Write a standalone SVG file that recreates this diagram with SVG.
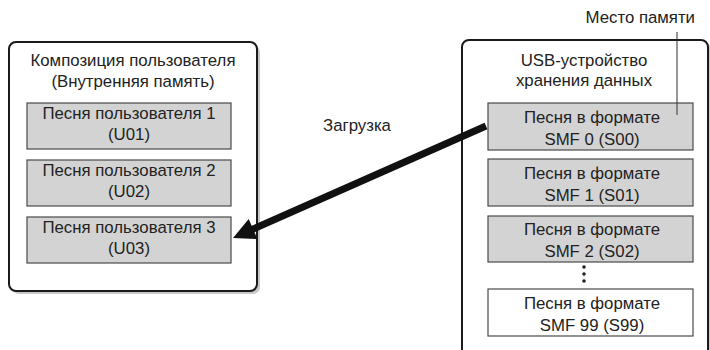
<svg xmlns="http://www.w3.org/2000/svg" width="710" height="350" viewBox="0 0 710 350">
<style>
text{font-family:"Liberation Sans","DejaVu Sans",sans-serif;font-size:16.8px;fill:#222;text-anchor:middle}
.outer{fill:#fff;stroke:#1a1a1a;stroke-width:2}
.shadow{fill:#c8c8c8}
.song{fill:#d3d3d3;stroke:#4a4a4a;stroke-width:1.2}
.song.white{fill:#fff}
</style>
<rect width="710" height="350" fill="#fff"/>
<g id="internal">
<rect class="shadow" x="12" y="45" width="248" height="249" rx="7"/>
<rect class="outer" x="9" y="42" width="248" height="249" rx="7"/>
<text x="133" y="66">Композиция пользователя</text>
<text x="133" y="87">(Внутренняя память)</text>
</g>
<g id="u01"><rect class="song" x="27" y="103" width="204" height="46"/><text x="129" y="119">Песня пользователя 1</text><text x="129" y="140">(U01)</text></g>
<g id="u02"><rect class="song" x="27" y="160" width="204" height="46"/><text x="129" y="176">Песня пользователя 2</text><text x="129" y="197">(U02)</text></g>
<g id="u03"><rect class="song" x="27" y="217" width="204" height="46"/><text x="129" y="233">Песня пользователя 3</text><text x="129" y="254">(U03)</text></g>
<g id="usb">
<rect class="shadow" x="465" y="43" width="246" height="330" rx="7"/>
<rect class="outer" x="462" y="40" width="246" height="330" rx="7"/>
<text x="584" y="66">USB-устройство</text>
<text x="584" y="86">хранения данных</text>
</g>
<g id="s00"><rect class="song" x="488" y="103" width="205" height="47"/><text x="592" y="123">Песня в формате</text><text x="592" y="145">SMF 0 (S00)</text></g>
<g id="s01"><rect class="song" x="488" y="159" width="205" height="47"/><text x="592" y="179">Песня в формате</text><text x="592" y="201">SMF 1 (S01)</text></g>
<g id="s02"><rect class="song" x="488" y="216" width="205" height="46"/><text x="592" y="235">Песня в формате</text><text x="592" y="257">SMF 2 (S02)</text></g>
<g id="dots" fill="#222"><circle cx="584" cy="267" r="1.8"/><circle cx="584" cy="274" r="1.8"/><circle cx="584" cy="281" r="1.8"/></g>
<g id="s99"><rect class="song white" x="488" y="289" width="205" height="47"/><text x="592" y="309">Песня в формате</text><text x="592" y="331">SMF 99 (S99)</text></g>
<g id="label-memory"><text x="695" y="23" style="text-anchor:end">Место памяти</text></g>
<g id="connectors">
<line x1="677" y1="32" x2="677" y2="115" stroke="#333" stroke-width="1"/>
<line x1="486" y1="126" x2="252" y2="229.5" stroke="#111" stroke-width="7"/>
<polygon points="233,238 248.7,219.1 257.5,239.1" fill="#111"/>
<text x="357" y="131">Загрузка</text>
</g>
</svg>
